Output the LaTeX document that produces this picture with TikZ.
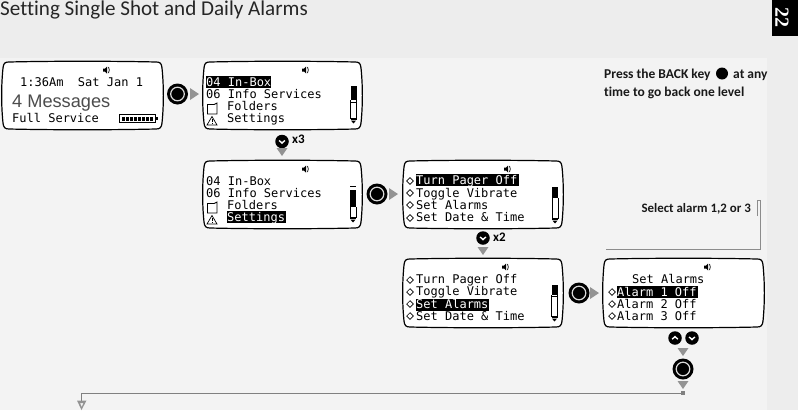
\documentclass[tikz,border=0pt]{standalone}
\usepackage{fontspec}
\setmainfont[Ligatures=NoCommon]{Carlito}
\newfontfamily\lcdfont{DejaVu Sans Mono}
\newfontfamily\bigfont{Liberation Sans}
\newfontfamily\tabfont{Liberation Serif}
\usetikzlibrary{calc,positioning}
\definecolor{outerbg}{HTML}{EDEDED}
\definecolor{panelbg}{HTML}{F3F3F3}
\definecolor{flow}{HTML}{808080}
\tikzset{
  x=1pt,y=-1pt,
  lcd/.style={anchor=base west,inner sep=0pt,font=\lcdfont\fontsize{12}{12}\selectfont,text=black},
  lcdhi/.style={lcd,text=white},
  lcdbox/.style={inner sep=0pt,draw=none,anchor=north west},
  lcdline/.style={draw=black,line width=1.2pt,fill=white},
  okbtn/.style={circle,fill=black,draw=none,minimum size=21pt,inner sep=0pt},
  navbtn/.style={circle,fill=black,draw=none,minimum size=13.5pt,inner sep=0pt},
  note/.style={inner sep=0pt,font=\bfseries\fontsize{13.5}{15}\selectfont,text=black!90},
  cnt/.style={anchor=west,inner sep=0pt,font=\bfseries\fontsize{13}{15}\selectfont},
  flowline/.style={draw=flow,line width=0.9pt},
  tipfill/.style={fill=flow!85,draw=none},
}
% name, x1,y1,x2,y2
\newcommand\lcdscreen[5]{%
  \pgfmathsetmacro\lw{#4-#2}\pgfmathsetmacro\lh{#5-#3}%
  \node[lcdbox,minimum width=\lw pt,minimum height=\lh pt] (#1) at (#2,#3) {};
  \begin{scope}[shift={(#2,#3)}]
   \draw[lcdline] (7,0) .. controls (\lw*.3,-1) and (\lw*.7,-1) .. (\lw-7,0)
     .. controls (\lw-3,0) and (\lw-1.5,1) .. (\lw-1,6)
     .. controls (\lw+.8,\lh*.35) and (\lw+.8,\lh*.65) .. (\lw-1,\lh-6)
     .. controls (\lw-1.5,\lh-1.5) and (\lw-3,\lh) .. (\lw-7,\lh)
     .. controls (\lw*.7,\lh+1) and (\lw*.3,\lh+1) .. (7,\lh)
     .. controls (3,\lh) and (1.5,\lh-1.5) .. (1,\lh-6)
     .. controls (-.8,\lh*.65) and (-.8,\lh*.35) .. (1,6)
     .. controls (1.5,1) and (3,0) .. (7,0) -- cycle;
  \end{scope}}
\newcommand\speaker[2]{%
  \fill[black] (#1-3,#2-1.5) -- (#1-1,#2-1.5) -- (#1+1,#2-3.5) -- (#1+1,#2+3.5) -- (#1-1,#2+1.5) -- (#1-3,#2+1.5) -- cycle;
  \draw[black,line width=.7pt] (#1+2.5,#2-3) .. controls (#1+3.6,#2-1) and (#1+3.6,#2+1) .. (#1+2.5,#2+3);}
% x1, y top, y bottom, y solid start, y solid end
\newcommand\scrollbar[5]{%
  \fill[black] (#1,#4) rectangle (#1+6,#5);
  \draw[black,line width=.7pt] (#1,#2) -- (#1+6,#2);
  \draw[black,line width=.7pt] (#1,#5) -- (#1,#3-4) -- (#1+6,#3-4) -- (#1+6,#5);
  \draw[black,line width=.7pt] (#1,#3-2.4) -- (#1+6,#3-2.4);
  \fill[black] (#1+.5,#3-1.4) -- (#1+5.5,#3-1.4) -- (#1+3,#3+1.5) -- cycle;}
\newcommand\diam[2]{\draw[black,line width=.65pt] (#1-3.3,#2) -- (#1,#2-3.3) -- (#1+3.3,#2) -- (#1,#2+3.3) -- cycle;}
\newcommand\hibar[4]{\fill[black] (#1,#2) rectangle (#3,#4);}
\newcommand\tipright[2]{\fill[tipfill] (#1,#2-6) -- (#1+9,#2) -- (#1,#2+6) -- cycle;}
\newcommand\tipdown[2]{\fill[tipfill] (#1-5.5,#2) -- (#1+5.5,#2) -- (#1,#2+8) -- cycle;}
\newcommand\ring[1]{\draw[white!85!black,line width=1.2pt] (#1) circle (6.8);}
\newcommand\chevdown[1]{\draw[white,line width=1.4pt] ($(#1)+(-2.8,-1)$) -- ($(#1)+(0,1.6)$) -- ($(#1)+(2.8,-1)$);}
\newcommand\chevup[1]{\draw[white,line width=1.4pt] ($(#1)+(-2.8,1.2)$) -- ($(#1)+(0,-1.4)$) -- ($(#1)+(2.8,1.2)$);}
\newcommand\foldericon[2]{\draw[black,line width=.9pt] (#1,#2+1.5) -- (#1+6.5,#2+1.5) -- (#1+9.5,#2) -- (#1+9.5,#2+11) -- (#1,#2+11) -- cycle;}
\newcommand\warnicon[2]{\draw[black,line width=.7pt] (#1+5,#2) -- (#1,#2+8.5) -- (#1+10,#2+8.5) -- cycle;
  \draw[black,line width=.8pt] (#1+5,#2+2.5) -- (#1+5,#2+5.5) (#1+5,#2+6.3) -- (#1+5,#2+7.5);}
\begin{document}
\begin{tikzpicture}
\useasboundingbox (0,0) rectangle (798,410);
\fill[outerbg] (0,0) rectangle (798,410);
\fill[panelbg] (0,58) rectangle (767,410);
\fill[black] (772,0) rectangle (798,36);
\node[rotate=-90,text=white,inner sep=0pt,font=\tabfont\bfseries\fontsize{20}{20}\selectfont] (page) at (782,17) {22};
\node[anchor=base west,inner sep=0pt,font=\fontsize{21.1}{22}\selectfont,text=black!85] (title) at (0,15) {Setting Single Shot and Daily Alarms};

% screen 1
\lcdscreen{s1}{2}{62}{163}{129}
\speaker{106}{70}
\node[lcd] (s1a) at (20,86) {1:36Am~~Sat Jan 1};
\node[anchor=base west,inner sep=0pt,font=\bigfont\fontsize{18.2}{18}\selectfont,text=black!70] (s1b) at (12,107) {4 Messages};
\node[lcd] (s1c) at (12,122) {Full Service};
\draw[black,line width=.9pt] (119.5,114.5) rectangle (155.5,122.5);
\fill[black] (155.5,117) rectangle (157.5,120);
\foreach \i in {0,...,7} {\fill[black] (122+\i*4,116.5) rectangle (124.6+\i*4,120.5);}

% screen 2
\lcdscreen{s2}{203}{62}{362}{129}
\speaker{305}{70}
\hibar{206}{76}{271}{88}
\node[lcdhi] (s2a) at (206,86) {04 In-Box};
\node[lcd] (s2b) at (206,98) {06 Info Services};
\node[lcd] (s2c) at (227,110) {Folders};
\node[lcd] (s2d) at (227,122) {Settings};
\foldericon{207.5}{103}
\warnicon{207}{116.5}
\scrollbar{350.5}{102}{122}{86}{100}

% screen 3
\lcdscreen{s3}{203}{161}{362}{228}
\speaker{305}{169}
\hibar{227}{211}{286}{223}
\node[lcd] (s3a) at (206,185) {04 In-Box};
\node[lcd] (s3b) at (206,197) {06 Info Services};
\node[lcd] (s3c) at (227,209) {Folders};
\node[lcdhi] (s3d) at (227,221) {Settings};
\foldericon{207.5}{202}
\warnicon{207}{215.5}
\scrollbar{350}{186}{221}{190}{207}

% screen 4
\lcdscreen{s4}{403}{161}{563}{228}
\speaker{507}{169}
\hibar{416}{174}{519}{186}
\node[lcdhi] (s4a) at (416,184) {Turn Pager Off};
\node[lcd] (s4b) at (416,197) {Toggle Vibrate};
\node[lcd] (s4c) at (416,209) {Set Alarms};
\node[lcd] (s4d) at (416,221) {Set Date \& Time};
\foreach \y in {181,193,205,218} {\diam{410}{\y}}
\scrollbar{552}{187}{222}{187}{198}

% screen 5
\lcdscreen{s5}{403}{259}{563}{327}
\speaker{505}{267}
\hibar{416}{299}{489}{311}
\node[lcd] (s5a) at (416,283) {Turn Pager Off};
\node[lcd] (s5b) at (416,295) {Toggle Vibrate};
\node[lcdhi] (s5c) at (416,308) {Set Alarms};
\node[lcd] (s5d) at (416,320) {Set Date \& Time};
\foreach \y in {280,292,304,316} {\diam{410}{\y}}
\scrollbar{551.5}{296}{320}{285}{295}

% screen 6
\lcdscreen{s6}{603}{259}{764}{327}
\speaker{707}{267}
\hibar{617}{286}{698}{298}
\node[lcd] (s6a) at (632,283) {Set Alarms};
\node[lcdhi] (s6b) at (617,296) {Alarm 1 Off};
\node[lcd] (s6c) at (617,308) {Alarm 2 Off};
\node[lcd] (s6d) at (617,320) {Alarm 3 Off};
\foreach \y in {292,304,316} {\diam{612}{\y}}

% OK buttons and arrows
\node[okbtn] (ok1) at (177.5,94) {}; \ring{ok1} \tipright{190}{94}
\node[okbtn] (ok2) at (377,194) {}; \ring{ok2} \tipright{389}{194}
\node[okbtn] (ok3) at (579,293) {}; \ring{ok3} \tipright{590}{293}
\node[okbtn] (ok4) at (683,369) {}; \ring{ok4}
\tipdown{683}{348} \tipdown{683}{381}

% navigation keys
\node[navbtn] (d1) at (282,141.5) {}; \chevdown{d1}
\node[cnt] (x3) at (292,139) {x3};
\tipdown{282}{148}
\node[navbtn] (d2) at (483,238) {}; \chevdown{d2}
\node[cnt] (x2) at (493,237) {x2};
\tipdown{483}{247}
\node[navbtn] (u3) at (675,338) {}; \chevup{u3}
\node[navbtn] (d3) at (692,338) {}; \chevdown{d3}

% bottom connector
\node[fill=flow,inner sep=0pt,minimum size=4pt] (sq) at (683,393) {};
\coordinate (tipend) at (81.5,402);
\draw[flowline] (sq.center) -| (tipend);
\fill[tipfill,even odd rule] (77,400.5) -- (86.5,400.5) -- (81.5,410) -- cycle (80,403) -- (83.5,403) -- (81.7,407) -- cycle;

% notes
\node[note,anchor=base west] (n1a) at (604,78) {Press the BACK key};
\node[circle,fill=black,minimum size=12pt,inner sep=0pt] (back) at (722,73.5) {};
\node[note,anchor=base west] (n1b) at (733,78) {at any};
\node[note,anchor=base west] (n2) at (604,96) {time to go back one level};
\node[note,anchor=base east,font=\bfseries\fontsize{12.9}{15}\selectfont] (n3) at (751,212) {Select alarm 1,2 or 3};
\coordinate (sel) at (757.5,216);
\coordinate (selend) at (606,249.5);
\draw[draw=black!45,line width=.8pt] (sel) |- (760.5,200.5) |- (selend);
\end{tikzpicture}
\end{document}
